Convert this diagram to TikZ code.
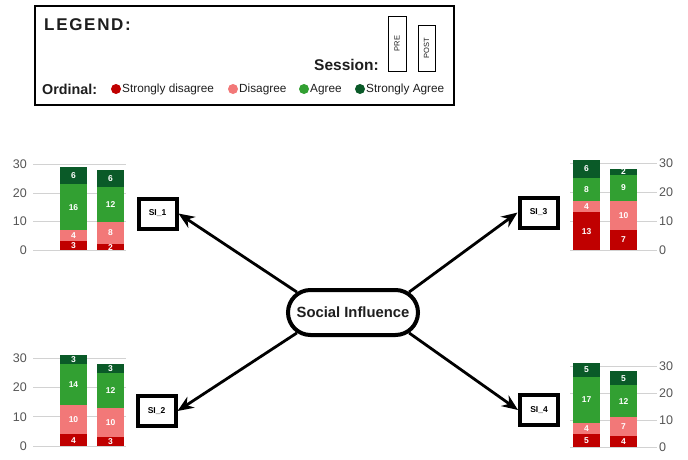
\documentclass[tikz,border=0pt]{standalone}
\usepackage{fontspec}
\setmainfont{Liberation Sans}
\newfontfamily\spacedfont[LetterSpace=10]{Liberation Sans}
\usetikzlibrary{arrows.meta,shapes.misc}
\definecolor{sdcol}{RGB}{192,0,0}
\definecolor{dcol}{RGB}{242,120,120}
\definecolor{acol}{RGB}{50,160,50}
\definecolor{sacol}{RGB}{10,90,40}
\definecolor{txt}{RGB}{30,30,30}
\definecolor{axcol}{RGB}{85,85,85}
\definecolor{gridcol}{RGB}{210,210,210}
\tikzset{
  num/.style={text=white,font=\fontsize{8.5}{8.5}\selectfont\bfseries,inner sep=0pt},
  gridln/.style={draw=gridcol,line width=0.8pt},
  axl/.style={text=axcol,font=\fontsize{12.5}{12.5}\selectfont,inner sep=1pt},
  sibox/.style={draw=black,line width=4pt,fill=white,minimum width=38pt,minimum height=30pt,inner sep=0pt,font=\fontsize{8.5}{8.5}\selectfont\bfseries},
  arr/.style={draw=black,line width=2.8pt,-{Stealth[length=16pt,width=13pt]}},
  legtxt/.style={text=txt,font=\fontsize{11.8}{11.8}\selectfont,inner sep=0pt,anchor=west},
  sessbox/.style={draw=black,line width=0.8pt,inner sep=0pt,font=\fontsize{7.5}{7.5}\selectfont,text=txt},
}
\newcommand{\mystack}[7]{%
  \pgfmathsetmacro\ya{#2-#3*#4}%
  \pgfmathsetmacro\yb{\ya-#3*#5}%
  \pgfmathsetmacro\yc{\yb-#3*#6}%
  \pgfmathsetmacro\yd{\yc-#3*#7}%
  \fill[sdcol] (#1,#2) rectangle (#1+27,\ya);
  \fill[dcol] (#1,\ya) rectangle (#1+27,\yb);
  \fill[acol] (#1,\yb) rectangle (#1+27,\yc);
  \fill[sacol] (#1,\yc) rectangle (#1+27,\yd);
  \node[num] at (#1+13.5,{(#2+\ya)/2}) {#4};
  \node[num] at (#1+13.5,{(\ya+\yb)/2}) {#5};
  \node[num] at (#1+13.5,{(\yb+\yc)/2}) {#6};
  \node[num] at (#1+13.5,{(\yc+\yd)/2}) {#7};
}
\newcommand{\myaxis}[6]{%
  \foreach \k in {0,10,20,30}{%
    \draw[gridln] (#1,{#3-#4*\k}) -- (#2,{#3-#4*\k});
    \node[axl,anchor=#6] at (#5,{#3-#4*\k}) {\k};
  }%
}
\begin{document}
\begin{tikzpicture}[x=1pt,y=-1pt]
\useasboundingbox (0,0) rectangle (688,460);
\fill[white] (0,0) rectangle (688,460);
% legend
\node[draw=black,line width=2.2pt,minimum width=419pt,minimum height=99pt,inner sep=0pt] (legend) at (244.5,55.5) {};
\node[anchor=west,inner sep=0pt,text=txt,font=\spacedfont\fontsize{17}{17}\selectfont\bfseries] (legtitle) at (44,24.5) {LEGEND:};
\node[anchor=east,inner sep=0pt,text=txt,font=\fontsize{15.5}{15.5}\selectfont\bfseries] (session) at (379,65) {Session:};
\node[sessbox,minimum width=18pt,minimum height=55pt] (pre) at (397,43.5) {\rotatebox{90}{PRE}};
\node[sessbox,minimum width=17pt,minimum height=46pt] (post) at (426.5,48) {\rotatebox{90}{POST}};
\node[anchor=west,inner sep=0pt,text=txt,font=\fontsize{14.3}{14.3}\selectfont\bfseries] (ordinal) at (42,89) {Ordinal:};
\fill[sdcol] (116,89) circle (5);
\node[legtxt] (l1) at (122,89.5) {Strongly disagree};
\fill[dcol] (233,89) circle (5);
\node[legtxt] (l2) at (239,89.5) {Disagree};
\fill[acol] (304,89) circle (5);
\node[legtxt] (l3) at (310,89.5) {Agree};
\fill[sacol] (360,89) circle (5);
\node[legtxt] (l4) at (366,89.5) {Strongly Agree};
% charts
\myaxis{33}{126}{250}{2.85}{28}{east}
\mystack{60}{250}{2.85}{3}{4}{16}{6}
\mystack{97}{250}{2.85}{2}{8}{12}{6}
\myaxis{570}{657}{250}{2.9}{658}{west}
\mystack{573}{250}{2.9}{13}{4}{8}{6}
\mystack{610}{250}{2.9}{7}{10}{9}{2}
\myaxis{33}{126}{446}{2.93}{28}{east}
\mystack{60}{446}{2.93}{4}{10}{14}{3}
\mystack{97}{446}{2.93}{3}{10}{12}{3}
\myaxis{570}{657}{447}{2.7}{658}{west}
\mystack{573}{447}{2.7}{5}{4}{17}{5}
\mystack{610}{447}{2.7}{4}{7}{12}{5}
% SI boxes
\node[sibox] (si1) at (157.5,213.5) {SI\_1};
\node[sibox] (si3) at (538.5,212.5) {SI\_3};
\node[sibox] (si2) at (156.5,411) {SI\_2};
\node[sibox] (si4) at (539,410) {SI\_4};
% center
\node[rounded rectangle,draw=black,line width=4pt,fill=white,minimum width=130pt,minimum height=45pt,inner sep=0pt,text=txt,font=\fontsize{14.8}{14.8}\selectfont\bfseries] (soc) at (353,312.5) {Social Influence};
\draw[arr] (soc.160) -- (si1.east);
\draw[arr] (soc.20) -- (si3.west);
\draw[arr] (soc.200) -- (si2.east);
\draw[arr] (soc.340) -- (si4.west);
\end{tikzpicture}
\end{document}
